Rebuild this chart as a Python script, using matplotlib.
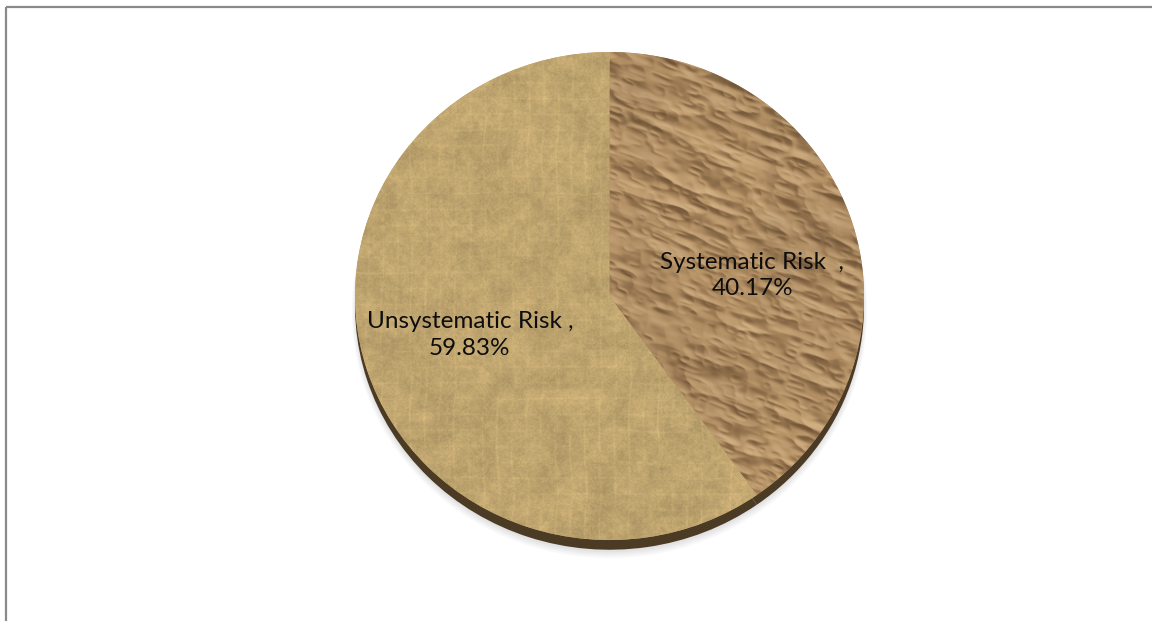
import numpy as np
import matplotlib
matplotlib.use("Agg")
import matplotlib.pyplot as plt
from matplotlib.lines import Line2D

# ---- data ----
categories = ["Systematic Risk", "Unsystematic Risk"]
shares = [40.17, 59.83]
separators = ["  ,", " ,"]

W, H = 1152, 621
fig = plt.figure(figsize=(W / 100, H / 100), dpi=100)
fig.patch.set_facecolor("white")

# chart-area frame (top and left edges)
frame_kw = dict(transform=fig.transFigure, color="#8a8a8a", lw=1.6, solid_capstyle="butt")
fig.add_artist(Line2D([5.5 / W, 1.0], [1 - 6.5 / H, 1 - 6.5 / H], **frame_kw))
fig.add_artist(Line2D([5.5 / W, 5.5 / W], [0.0, 1 - 6.5 / H], **frame_kw))

# pie axes: unit radius spans 509 px across and 488 px tall (tilted disc)
ax = fig.add_axes([291.4 / W, 20 / H, 636.25 / W, 610 / H])


# ---- procedural textures ----
def hash2(ix, iy, s):
    h = np.sin(ix * 127.1 + iy * 311.7 + s * 74.7) * 43758.5453
    return h - np.floor(h)


def vnoise(x, y, s):
    ix, iy = np.floor(x), np.floor(y)
    fx, fy = x - ix, y - iy
    ux = fx * fx * (3 - 2 * fx)
    uy = fy * fy * (3 - 2 * fy)
    a = hash2(ix, iy, s)
    b = hash2(ix + 1, iy, s)
    c = hash2(ix, iy + 1, s)
    d = hash2(ix + 1, iy + 1, s)
    return a + (b - a) * ux + (c - a) * uy + (a - b - c + d) * ux * uy


def tint(base, light, dark, s):
    s = s[..., None]
    return np.where(s > 0, base + s * (light - base), base - s * (dark - base))


N = 540
Y, X = np.mgrid[0:N, 0:N].astype(float)

# crumpled paper: ridged noise on slightly rotated, stretched coordinates
th = np.deg2rad(-22)
U = X * np.cos(th) - Y * np.sin(th)
V = X * np.sin(th) + Y * np.cos(th)
height = np.zeros_like(X)
for i, (sx, sy, amp) in enumerate([(48, 24, 1.0), (24, 12, 0.55), (11, 6, 0.25)]):
    n = vnoise(U / sx + 3.1 * i, V / sy + 1.7 * i, i + 1)
    height += amp * (1 - np.abs(2 * n - 1))
gy, gx = np.gradient(height)
shade = -(gx * 0.6 - gy * 0.8) * 8.0
shade = np.tanh(shade) * 0.9
paper_base = np.array([174, 139, 97]) / 255
paper_light = np.array([212, 180, 136]) / 255
paper_dark = np.array([96, 70, 44]) / 255
paper = tint(paper_base, paper_light, paper_dark, shade)
paper *= (0.96 + 0.08 * vnoise(X / 50, Y / 50, 9))[..., None]
paper = np.clip(paper, 0, 1)

# woven canvas
canvas_base = np.array([189, 163, 110]) / 255
mottle = 0.10 * (vnoise(X / 20, Y / 20, 11) - 0.5) + 0.08 * (vnoise(X / 6, Y / 6, 12) - 0.5)
weave = 0.05 * np.sin(2 * np.pi * X / 2.6) * np.sin(2 * np.pi * Y / 2.6)
vx = (X + 4 * vnoise(Y / 40, X / 200, 13)) % 15.0
hy = (Y + 4 * vnoise(X / 40, Y / 200, 14)) % 17.0
vlines = 0.08 * np.exp(-((vx - 7.5) ** 2) / 0.8) * vnoise(X / 15, Y / 30, 15)
hlines = 0.06 * np.exp(-((hy - 8.5) ** 2) / 0.8) * vnoise(X / 30, Y / 15, 16)
grain = 0.12 * (vnoise(X / 1.3, Y / 1.3, 17) - 0.5)
canvas = canvas_base[None, None, :] * (1 + mottle + weave + vlines + hlines + grain)[..., None]
canvas = np.clip(canvas, 0, 1)

textures = [paper, canvas]

# ---- soft shadow and disc edge ----
for k, a in enumerate([0.05, 0.05, 0.06, 0.07]):
    ax.pie(shares, startangle=90, counterclock=False, radius=1.0 + 0.004 * (3 - k),
           center=(0, -0.05 - 0.004 * (3 - k)), colors=["#808080"] * 2,
           wedgeprops=dict(linewidth=0, alpha=a))
ax.pie(shares, startangle=90, counterclock=False, radius=1.0, center=(0, -0.04),
       colors=["#4b3b25"] * 2, wedgeprops=dict(linewidth=0))

# ---- top face ----
wedges, _ = ax.pie(shares, startangle=90, counterclock=False, radius=1.0,
                   colors=["#ae8b61", "#bda46f"], wedgeprops=dict(linewidth=0))
for w, tex in zip(wedges, textures):
    im = ax.imshow(tex, extent=(-1.03, 1.03, -1.03, 1.03), origin="upper",
                   interpolation="bilinear", zorder=w.get_zorder() + 0.1)
    im.set_clip_path(w)

# ---- data labels ----
label_pos = [(0.56, 0.083), (-0.549, -0.16)]
for cat, sep, v, (lx, ly) in zip(categories, separators, shares, label_pos):
    ax.text(lx, ly, f"{cat}{sep}\n{v:.2f}%", ha="center", va="center",
            multialignment="center", fontsize=17.5, family="Lato", color="#0d0d0d",
            linespacing=1.3, zorder=10)

ax.set_aspect("auto")
ax.set_xlim(-1.25, 1.25)
ax.set_ylim(-1.25, 1.25)
ax.axis("off")

fig.savefig("out.png", dpi=100, facecolor="white")
